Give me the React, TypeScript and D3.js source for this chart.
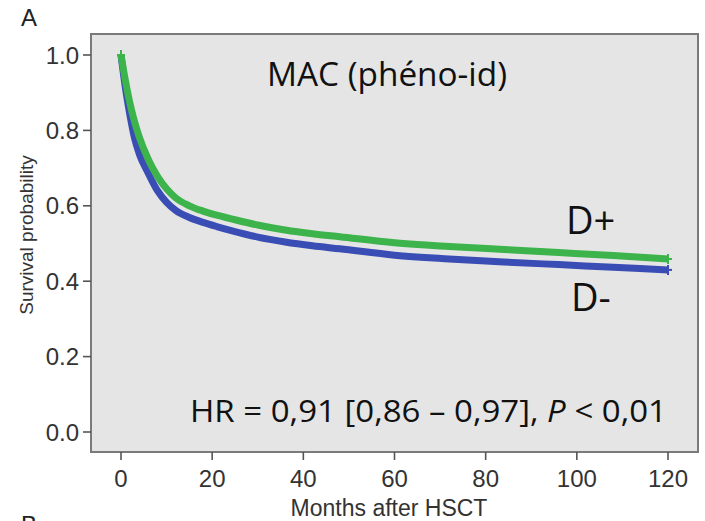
import React from "react";
import * as d3 from "d3";

// Follow-up time points (months after HSCT)
const months = [0, 1, 2, 3, 4, 6, 8, 10, 12, 15, 18, 21, 24, 30, 36, 42, 48, 60, 72, 84, 96, 108, 120];

// Survival probability, donor positive group (D+)
const survivalDPos = [1.0, 0.93, 0.87, 0.822, 0.783, 0.723, 0.678, 0.645, 0.621, 0.6, 0.586, 0.575, 0.566, 0.549, 0.536, 0.526, 0.518, 0.502, 0.492, 0.484, 0.476, 0.468, 0.459];

// Survival probability, donor negative group (D-)
const survivalDNeg = [1.0, 0.91, 0.838, 0.778, 0.738, 0.686, 0.64, 0.609, 0.588, 0.569, 0.556, 0.545, 0.535, 0.517, 0.504, 0.494, 0.486, 0.469, 0.459, 0.451, 0.444, 0.437, 0.43];

const xTicks = [0, 20, 40, 60, 80, 100, 120];
const yTicks = [0.0, 0.2, 0.4, 0.6, 0.8, 1.0];

const W = 705;
const H = 521;
const box = { left: 91, right: 698, top: 34, bottom: 452 };

export default function App() {
  const x = d3.scaleLinear().domain([0, 120]).range([121, 668]);
  const y = d3.scaleLinear().domain([0, 1]).range([432, 55]);

  const line = d3
    .line<[number, number]>()
    .x((d) => x(d[0]))
    .y((d) => y(d[1]))
    .curve(d3.curveMonotoneX);

  const pos: [number, number][] = months.map((m, i) => [m, survivalDPos[i]]);
  const neg: [number, number][] = months.map((m, i) => [m, survivalDNeg[i]]);

  const axisFont = "'Liberation Sans', Arial, Helvetica, sans-serif";
  const noteFont = "'Open Sans', 'Noto Sans', sans-serif";
  const tickColor = "#555";
  const labelColor = "#333";

  const endPos = pos[pos.length - 1];
  const endNeg = neg[neg.length - 1];

  return (
    <svg
      width={W}
      height={H}
      viewBox={`0 0 ${W} ${H}`}
      style={{ position: "absolute", left: 0, top: 0, background: "#fff" }}
    >
      <rect x={0} y={0} width={W} height={H} fill="#fff" />

      {/* panel letters */}
      <text x={21} y={26} fontFamily={axisFont} fontSize={24} fill="#222">A</text>
      <text x={21} y={533} fontFamily={axisFont} fontSize={24} fill="#222">B</text>

      {/* plot panel */}
      <rect
        x={box.left}
        y={box.top}
        width={box.right - box.left}
        height={box.bottom - box.top}
        fill="#e5e5e5"
        stroke="#7a7a7a"
        strokeWidth={2}
      />

      {/* y axis */}
      {yTicks.map((t) => (
        <g key={`y${t}`}>
          <line x1={box.left - 8} x2={box.left} y1={y(t)} y2={y(t)} stroke={tickColor} strokeWidth={1.6} />
          <text
            x={box.left - 12}
            y={y(t)}
            dy="0.36em"
            textAnchor="end"
            fontFamily={axisFont}
            fontSize={24}
            fill={labelColor}
          >
            {t.toFixed(1)}
          </text>
        </g>
      ))}

      {/* x axis */}
      {xTicks.map((t) => (
        <g key={`x${t}`}>
          <line x1={x(t)} x2={x(t)} y1={box.bottom} y2={box.bottom + 8} stroke={tickColor} strokeWidth={1.6} />
          <text
            x={x(t)}
            y={487}
            textAnchor="middle"
            fontFamily={axisFont}
            fontSize={24}
            fill={labelColor}
          >
            {t}
          </text>
        </g>
      ))}

      <text x={389} y={516} textAnchor="middle" fontFamily={axisFont} fontSize={23} fill={labelColor}>
        Months after HSCT
      </text>
      <text
        transform={`translate(33, 235) rotate(-90)`}
        textAnchor="middle"
        fontFamily={axisFont}
        fontSize={19}
        fill={labelColor}
      >
        Survival probability
      </text>

      {/* survival curves */}
      <path d={line(neg) ?? ""} fill="none" stroke="#3a4db5" strokeWidth={7} strokeLinecap="butt" />
      <path d={line(pos) ?? ""} fill="none" stroke="#3cb44b" strokeWidth={7} strokeLinecap="butt" />

      {/* censor marks at the ends */}
      {[
        { p: endNeg, c: "#3a4db5" },
        { p: endPos, c: "#3cb44b" },
        { p: pos[0], c: "#3cb44b" },
      ].map((d, i) => (
        <g key={`c${i}`} stroke={d.c} strokeWidth={2}>
          <line x1={x(d.p[0])} x2={x(d.p[0])} y1={y(d.p[1]) - 5} y2={y(d.p[1]) + 5} />
          <line x1={x(d.p[0]) - 4} x2={x(d.p[0]) + 4} y1={y(d.p[1])} y2={y(d.p[1])} />
        </g>
      ))}

      {/* annotations */}
      <text x={267} y={86} fontFamily={noteFont} fontSize={33} fill="#111" textLength={240} lengthAdjust="spacingAndGlyphs">
        MAC (phéno-id)
      </text>
      <text x={566} y={234} fontFamily={noteFont} fontSize={38} fill="#111">D+</text>
      <text x={571} y={311} fontFamily={noteFont} fontSize={38} fill="#111">D-</text>
      <text x={190} y={422} fontFamily={noteFont} fontSize={31} fill="#111" textLength={477} lengthAdjust="spacingAndGlyphs">
        HR = 0,91 [0,86 – 0,97], <tspan fontStyle="italic">P</tspan> &lt; 0,01
      </text>
    </svg>
  );
}
